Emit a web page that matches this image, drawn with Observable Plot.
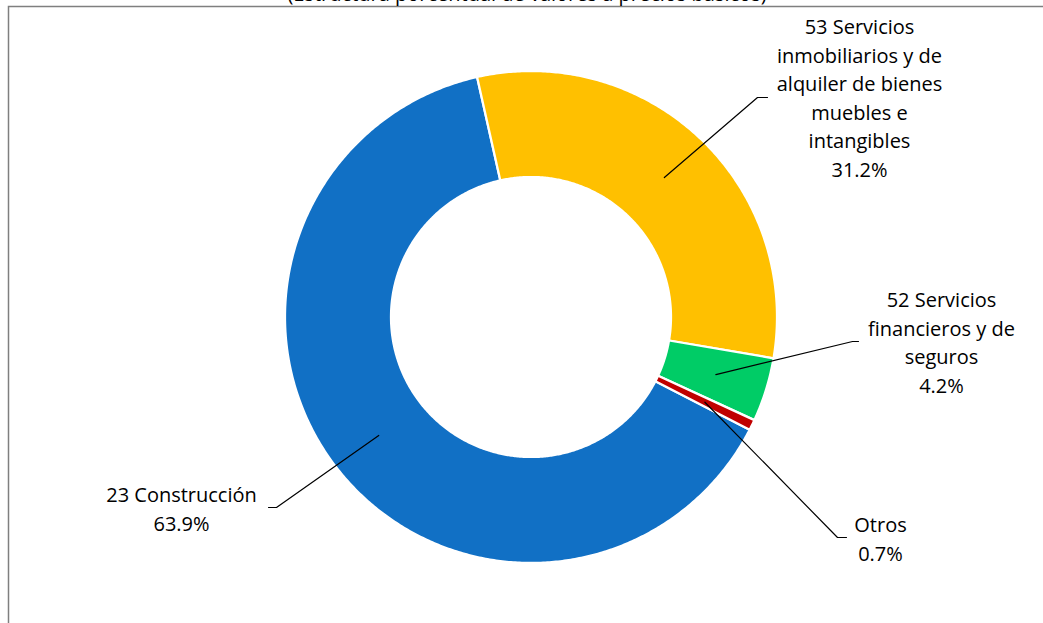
<!DOCTYPE html>
<html><head><meta charset="utf-8">
<script src="https://cdn.jsdelivr.net/npm/d3@7"></script>
<script src="https://cdn.jsdelivr.net/npm/@observablehq/plot@0.6"></script>
<style>
html,body{margin:0;padding:0;overflow:hidden;background:#fff;width:1043px;height:623px;}
#chart{position:absolute;left:0;top:0;}
#title{position:absolute;left:0;top:-16px;width:1054px;text-align:center;font:20px/20px "Open Sans";color:#000;z-index:2;white-space:nowrap;}
</style></head><body>
<div id="chart"></div>
<div id="title">(Estructura porcentual de valores a precios básicos)</div>
<script>
// ---- data ----
const categories = ["23 Construcción",
  "53 Servicios inmobiliarios y de alquiler de bienes muebles e intangibles",
  "52 Servicios financieros y de seguros",
  "Otros"];
const labelLines = [["23 Construcción"],
  ["53 Servicios","inmobiliarios y de","alquiler de bienes","muebles e","intangibles"],
  ["52 Servicios","financieros y de","seguros"],
  ["Otros"]];
const shares = [63.9, 31.2, 4.2, 0.7];
const colors = ["#1170C5", "#FFC000", "#00CC66", "#C00000"];

// ---- layout (plot units = pixels) ----
const W = 1060, H = 640;
const cx = 531, cy = 317, rOuter = 246, rInner = 140;
const startAngle = 117.3;
const labelX = [181, 859, 941, 880];
const labelBaseline = [530, 176, 392, 560];
const elbowX = [276, 757, 852, 837], elbowY = [507, 97, 341, 537];
const tailX = [268, 767, 858, 846];

const total = d3.sum(shares);
const rad = d => d * Math.PI / 180;
let acc = startAngle;
const arcs = shares.map((v, i) => { const a0 = acc; acc += v / total * 360; return {cat: categories[i], a0, a1: acc}; });

const ringPts = [];
for (const a of arcs) {
  const n = Math.max(4, Math.ceil((a.a1 - a.a0) / 0.5));
  for (let k = 0; k <= n; k++) {
    const t = rad(a.a0 + (a.a1 - a.a0) * k / n);
    ringPts.push({cat: a.cat,
      xo: cx + rOuter * Math.sin(t), yo: cy - rOuter * Math.cos(t),
      xi: cx + rInner * Math.sin(t), yi: cy - rInner * Math.cos(t)});
  }
}
const rMid = (rOuter + rInner) / 2;
const leaderPts = [];
arcs.forEach((a, i) => {
  const m = rad((a.a0 + a.a1) / 2);
  leaderPts.push({i, x: cx + rMid * Math.sin(m), y: cy - rMid * Math.cos(m)});
  leaderPts.push({i, x: elbowX[i], y: elbowY[i]});
  leaderPts.push({i, x: tailX[i], y: elbowY[i]});
});
const labels = categories.map((c, i) => ({
  x: labelX[i], y: labelBaseline[i],
  text: labelLines[i].join("\n") + "\n" + d3.format(".1f")(shares[i]) + "%"
}));

const plot = Plot.plot({
  width: W, height: H,
  marginLeft: 8, marginTop: 6, marginRight: W - 1050, marginBottom: H - 630,
  x: {domain: [8, 1050], range: [8, 1050], axis: null},
  y: {domain: [6, 630], range: [6, 630], axis: null},
  color: {domain: categories, range: colors},
  style: {fontFamily: "'Open Sans'", maxWidth: "none", background: "white"},
  marks: [
    Plot.frame({stroke: "#7f7f7f", strokeWidth: 1.5}),
    Plot.area(ringPts, {x1: "xo", y1: "yo", x2: "xi", y2: "yi", z: "cat", fill: "cat",
      stroke: "white", strokeWidth: 2.25}),
    Plot.line(leaderPts, {x: "x", y: "y", z: "i", stroke: "black", strokeWidth: 1.2}),
    Plot.text(labels, {x: "x", y: "y", text: "text", fontSize: 20, lineHeight: 1.425,
      lineAnchor: "bottom", textAnchor: "middle", fill: "black"})
  ]
});
document.getElementById("chart").appendChild(plot);
</script>
</body></html>
